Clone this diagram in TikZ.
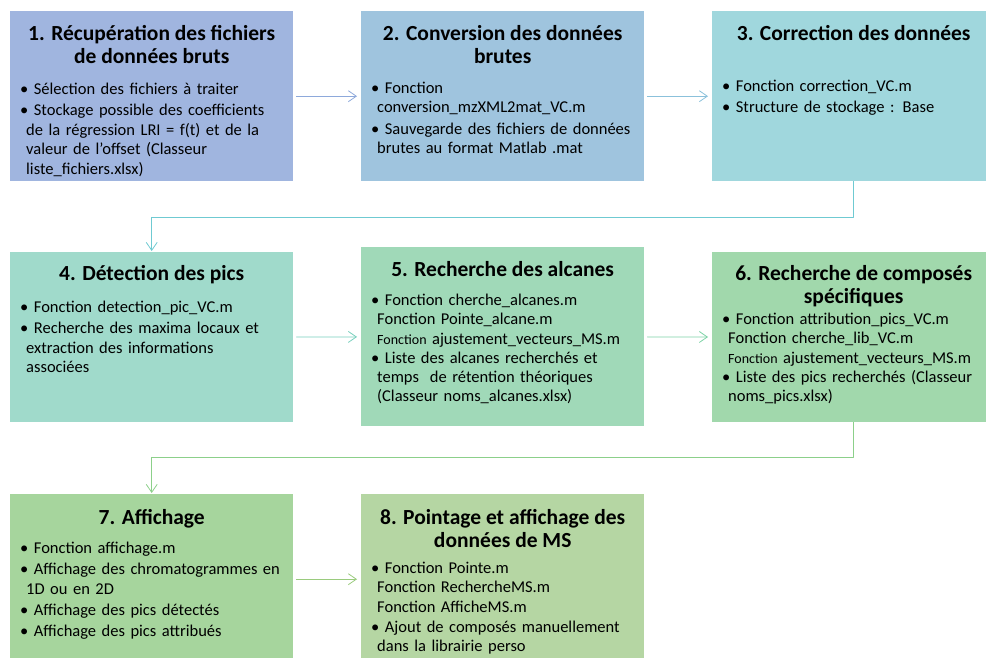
\documentclass[tikz,border=0pt]{standalone}
\usepackage{fontspec}
\setmainfont{Carlito}
\usetikzlibrary{positioning,arrows.meta}
\definecolor{boxA}{HTML}{A0B5DF}
\definecolor{boxB}{HTML}{9FC4DE}
\definecolor{boxC}{HTML}{A0D7DD}
\definecolor{boxD}{HTML}{A0DACB}
\definecolor{boxE}{HTML}{A0D9B8}
\definecolor{boxF}{HTML}{A1D8AC}
\definecolor{boxG}{HTML}{A6D59D}
\definecolor{boxH}{HTML}{B5D6A3}
\definecolor{arrA}{HTML}{8EA9DB}
\definecolor{arrB}{HTML}{8BC1DB}
\definecolor{arrC}{HTML}{6FCAD2}
\definecolor{arrD}{HTML}{78D0BD}
\definecolor{arrE}{HTML}{7DD3A6}
\definecolor{arrF}{HTML}{8CD08A}
\definecolor{arrG}{HTML}{9ACB7E}
\newcommand{\itm}[1]{\par\hspace*{-6pt}\textbullet\ #1}
\newcommand{\smf}[1]{{\fontsize{14}{19}\selectfont #1}}
\tikzset{
  box/.style={rectangle,anchor=north west,minimum width=283pt,minimum height=170pt,inner sep=0pt},
  ttl/.style={font=\bfseries\fontsize{21.5}{23.5}\selectfont,align=center,inner sep=0pt},
  lst/.style={font=\fontsize{16.5}{19.6}\selectfont,text width=268pt,inner sep=0pt,
    execute at begin node={\raggedright\leftskip=6pt\parskip=1.5pt}},
  tight/.style={font=\fontsize{16.5}{19.1}\selectfont},
  conn/.style={-{Straight Barb[length=8pt,width=11pt]},line width=0.8pt,shorten <=3pt,shorten >=4pt}
}
\begin{document}
\begin{tikzpicture}[x=1pt,y=-1pt,line join=round,line cap=round]
\clip (0,0) rectangle (986,657);
% boites
\node[box,fill=boxA] (b1) at (10,11) {};
\node[box,fill=boxB] (b2) at (361,11) {};
\node[box,fill=boxC] (b3) at (712,11) {};
\node[box,fill=boxD] (b4) at (10,252) {};
\node[box,fill=boxE,minimum height=179pt] (b5) at (361,247) {};
\node[box,fill=boxF] (b6) at (712,252) {};
\node[box,fill=boxG] (b7) at (10,494) {};
\node[box,fill=boxH] (b8) at (361,494) {};
% titres
\node[ttl,below=14pt of b1.north] (t1) {1. Récupération des fichiers\\de données bruts};
\node[ttl,below=14pt of b2.north] (t2) {2. Conversion des données\\brutes};
\node[ttl,below=14pt of b3.north] (t3) {3. Correction des données};
\node[ttl,below=13pt of b4.north] (t4) {4. Détection des pics};
\node[ttl,below=14pt of b5.north] (t5) {5. Recherche des alcanes};
\node[ttl,below=13pt of b6.north] (t6) {6. Recherche de composés\\spécifiques};
\node[ttl,below=15pt of b7.north] (t7) {7. Affichage};
\node[ttl,below=15pt of b8.north] (t8) {8. Pointage et affichage des\\données de MS};
% listes
\node[lst,below right=62pt and 10pt of b1.north west] (l1) {\itm{Sélection des fichiers à traiter}
  \itm{Stockage possible des coefficients\\de la régression LRI = f(t) et de la\\valeur de l’offset (Classeur\\liste\_fichiers.xlsx)}};
\node[lst,below right=61pt and 10pt of b2.north west] (l2) {\itm{Fonction\\conversion\_mzXML2mat\_VC.m}
  \itm{Sauvegarde des fichiers de données\\brutes au format Matlab .mat}};
\node[lst,below right=59pt and 10pt of b3.north west] (l3) {\itm{Fonction correction\_VC.m}
  \itm{Structure de stockage : Base}};
\node[lst,below right=39pt and 10pt of b4.north west] (l4) {\itm{Fonction detection\_pic\_VC.m}
  \itm{Recherche des maxima locaux et\\extraction des informations\\associées}};
\node[lst,tight,below right=39pt and 10pt of b5.north west] (l5) {\parskip=0.5pt
  \itm{Fonction cherche\_alcanes.m\\Fonction Pointe\_alcane.m\\\smf{Fonction} ajustement\_vecteurs\_MS.m}
  \itm{Liste des alcanes recherchés et\\temps~ de rétention théoriques\\(Classeur noms\_alcanes.xlsx)}};
\node[lst,tight,below right=53pt and 10pt of b6.north west] (l6) {\parskip=0.5pt
  \itm{Fonction attribution\_pics\_VC.m\\Fonction cherche\_lib\_VC.m\\\smf{Fonction} ajustement\_vecteurs\_MS.m}
  \itm{Liste des pics recherchés (Classeur\\noms\_pics.xlsx)}};
\node[lst,below right=38pt and 10pt of b7.north west] (l7) {\itm{Fonction affichage.m}
  \itm{Affichage des chromatogrammes en\\1D ou en 2D}\itm{Affichage des pics détectés}
  \itm{Affichage des pics attribués}};
\node[lst,tight,below right=59pt and 10pt of b8.north west] (l8) {\itm{Fonction Pointe.m\\Fonction RechercheMS.m\\Fonction AfficheMS.m}
  \itm{Ajout de composés manuellement\\dans la librairie perso}};
% fleches
\draw[conn,arrA] (b1) -- (b2);
\draw[conn,arrB] (b2) -- (b3);
\draw[conn,arrC,shorten <=0pt,shorten >=1pt] (b3.south) -- ++(0,36) -| (b4.north);
\draw[conn,arrD] (b4) -- (b5);
\draw[conn,arrE] (b5) -- (b6);
\draw[conn,arrF,shorten <=0pt,shorten >=1pt] (b6.south) -- ++(0,35) -| (b7.north);
\draw[conn,arrG] (b7) -- (b8);
\end{tikzpicture}
\end{document}
